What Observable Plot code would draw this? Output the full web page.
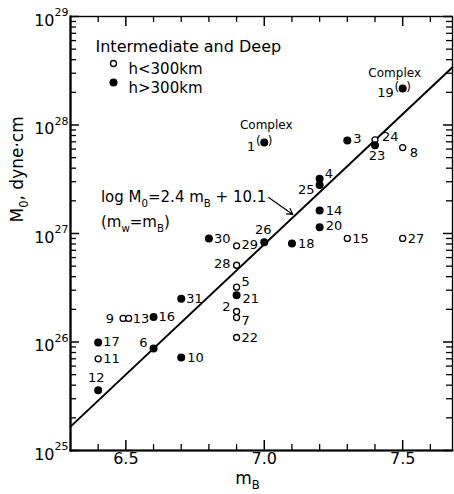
<!DOCTYPE html>
<html><head><meta charset="utf-8">
<script src="https://cdn.jsdelivr.net/npm/d3@7"></script>
<script src="https://cdn.jsdelivr.net/npm/@observablehq/plot@0.6"></script>
<style>body{margin:0;background:#fff} svg{display:block}</style>
</head><body><div id="chart"></div>
<script>
// ---- data ----
const eventIds = [1,2,3,4,5,6,7,8,9,10,11,12,13,14,15,16,17,18,19,20,21,22,23,24,25,26,27,28,29,30,31];
const mBvals   = [7.0,6.9,7.3,7.2,6.9,6.6,6.9,7.5,6.49,6.7,6.4,6.4,6.51,7.2,7.3,6.6,6.4,7.1,7.5,7.2,6.9,6.9,7.4,7.4,7.2,7.0,7.5,6.9,6.9,6.8,6.7];
const M0vals   = [6.9e27,1.91e26,7.2e27,3.2e27,3.2e26,8.7e25,1.68e26,6.2e27,1.65e26,7.2e25,7.0e25,3.6e25,1.65e26,1.63e27,9.0e26,1.7e26,9.9e25,8.1e26,2.17e28,1.14e27,2.7e26,1.1e26,6.5e27,7.3e27,2.8e27,8.3e26,9.0e26,5.1e26,7.7e26,9.0e26,2.5e26];
const deepVals = [1,0,1,1,0,1,0,0,0,1,0,1,0,1,0,1,1,1,1,1,1,0,1,0,1,1,0,0,0,1,1];
const complexIds = [1, 19];
const fitSlope = 2.4, fitIntercept = 10.1;
const fitRange = [6.3, 7.68];
const xMajorTicks = [6.5, 7.0, 7.5];
const xTickLabels = ["6.5", "7.0", "7.5"];
const xMinorTicks = [6.4, 6.6, 6.7, 6.8, 6.9, 7.1, 7.2, 7.3, 7.4, 7.6];
const yDecades = [25, 26, 27, 28, 29];
const legendTitle = "Intermediate and Deep";
const legendLabels = ["h<300km", "h>300km"];
const noteTexts = ["log M{_0}=2.4 m{_B} + 10.1", "(m{_w}=m{_B})"];
const noteX = [6.41, 6.41];
const noteY = [2.15e27, 1.26e27];
const arrowFrom = [7.016, 2.15e27];
const arrowTo = [7.103, 1.50e27];

const data = eventIds.map((id, i) => ({id, mB: mBvals[i], M0: M0vals[i], deep: !!deepVals[i]}));
const notes = noteTexts.map((t, i) => ({t, x: noteX[i], y: noteY[i]}));
const yMinor = yDecades.slice(0, -1).flatMap(d => [2,3,4,5,6,7,8,9].map(m => m * 10 ** d));
const yMajor = yDecades.map(d => 10 ** d);

// ---- layout (label offsets per event: dx, dy, anchor) ----
const labelAt = {
  1:[-9,4,"end"], 2:[-6,-5,"end"], 3:[6,-2,"start"], 4:[5,-5,"start"], 5:[5,-5,"start"],
  6:[-6,-6,"end"], 7:[5,3,"start"], 8:[7,5,"start"], 9:[-9,0,"end"], 10:[6,0,"start"],
  11:[5,0,"start"], 12:[-2,-12,"middle"], 13:[4,0,"start"], 14:[6,0,"start"], 15:[5,0,"start"],
  16:[5,0,"start"], 17:[5,-1,"start"], 18:[6,0,"start"], 19:[-9,4,"end"], 20:[6,-1,"start"],
  21:[6,4,"start"], 22:[5,0,"start"], 23:[2,11,"middle"], 24:[7,-3,"start"], 25:[-5,5,"end"],
  26:[-1,-12,"middle"], 27:[5,0,"start"], 28:[-6,-1,"end"], 29:[5,-1,"start"], 30:[5,0,"start"], 31:[5,0,"start"]
};
const complexAt = {1:[2,-17], 19:[-8,-15]};

const W = 454, H = 494, mL = 70, mR = 2, mT = 16, mBot = 44;
const FW = W - mL - mR, FH = H - mT - mBot;

const labelMarks = Object.entries(labelAt).map(([id, [dx, dy, a]]) =>
  Plot.text(data, {filter: d => d.id === +id, x: "mB", y: "M0", text: d => String(d.id), dx, dy, textAnchor: a, fontSize: 13}));
const complexMarks = complexIds.flatMap(id => {
  const [dx, dy] = complexAt[id];
  const f = d => d.id === id;
  return [
    Plot.text(data, {filter: f, x: "mB", y: "M0", text: () => "Complex", dx, dy, fontSize: 12}),
    Plot.text(data, {filter: f, x: "mB", y: "M0", text: () => "(", dx: -3.5, dy: -1, textAnchor: "end", fontSize: 12}),
    Plot.text(data, {filter: f, x: "mB", y: "M0", text: () => ")", dx: 3.5, dy: -1, textAnchor: "start", fontSize: 12})
  ];
});

const plot = Plot.plot({
  width: W, height: H, marginLeft: mL, marginRight: mR, marginTop: mT, marginBottom: mBot,
  x: {domain: [6.3, 7.68], axis: null},
  y: {type: "log", domain: [1e25, 1e29], axis: null},
  style: {fontFamily: "'DejaVu Sans', sans-serif", fontSize: "13px", color: "black", background: "white"},
  marks: [
    Plot.frame({strokeWidth: 1.4}),
    Plot.frame({anchor: "left", strokeWidth: 2.2}),
    Plot.frame({anchor: "bottom", strokeWidth: 1.8}),
    // ticks (inward)
    Plot.tickX(xMinorTicks, {x: d => d, insetTop: FH - 6, strokeWidth: 1.3}),
    Plot.tickX(xMajorTicks, {x: d => d, insetTop: FH - 10, strokeWidth: 1.5}),
    Plot.tickX(xMinorTicks, {x: d => d, insetBottom: FH - 6, strokeWidth: 1.3}),
    Plot.tickX(xMajorTicks, {x: d => d, insetBottom: FH - 10, strokeWidth: 1.5}),
    Plot.tickY(yMinor, {y: d => d, insetRight: FW - 6, strokeWidth: 1.3}),
    Plot.tickY(yMajor, {y: d => d, insetRight: FW - 9, strokeWidth: 1.5}),
    Plot.tickY(yMinor, {y: d => d, insetLeft: FW - 6, strokeWidth: 1.3}),
    Plot.tickY(yMajor, {y: d => d, insetLeft: FW - 9, strokeWidth: 1.5}),
    // tick labels
    Plot.text(xMajorTicks, {x: d => d, text: (d, i) => xTickLabels[i], frameAnchor: "bottom", dy: 13, fontSize: 16}),
    Plot.text(yDecades, {y: d => 10 ** d, text: () => "10", frameAnchor: "left", textAnchor: "end", dx: -16, dy: 4, fontSize: 16}),
    Plot.text(yDecades, {y: d => 10 ** d, text: d => String(d), frameAnchor: "left", textAnchor: "start", dx: -16, dy: -4, fontSize: 11}),
    // axis titles
    Plot.text(["M{_0}, dyne·cm"], {frameAnchor: "left", dx: -53, dy: -11, rotate: -90, fontSize: 17}),
    Plot.text(["m{_B}"], {frameAnchor: "bottom", dx: -14, dy: 33, fontSize: 17}),
    // fit line
    Plot.line(fitRange, {x: d => d, y: d => 10 ** (fitSlope * d + fitIntercept), strokeWidth: 2}),
    // points
    Plot.dot(data, {filter: d => !d.deep, x: "mB", y: "M0", r: 3, stroke: "black", fill: "white", strokeWidth: 1.3}),
    Plot.dot(data, {filter: d => d.deep, x: "mB", y: "M0", r: 4, fill: "black"}),
    ...labelMarks,
    ...complexMarks,
    // annotation
    Plot.text(notes, {x: "x", y: "y", text: "t", textAnchor: "start", fontSize: 15}),
    Plot.arrow([0], {x1: () => arrowFrom[0], y1: () => arrowFrom[1], x2: () => arrowTo[0], y2: () => arrowTo[1], headLength: 8, strokeWidth: 1.2}),
    // legend
    Plot.text([legendTitle], {frameAnchor: "top-left", dx: 25, dy: 24, textAnchor: "start", fontSize: 16, letterSpacing: "0.5px"}),
    Plot.dot([0], {frameAnchor: "top-left", dx: 43, dy: 47, r: 3, stroke: "black", fill: "white", strokeWidth: 1.3}),
    Plot.dot([0], {frameAnchor: "top-left", dx: 43, dy: 66, r: 4, fill: "black"}),
    Plot.text([legendLabels[0]], {frameAnchor: "top-left", dx: 58, dy: 47, textAnchor: "start", fontSize: 15, letterSpacing: "0.8px"}),
    Plot.text([legendLabels[1]], {frameAnchor: "top-left", dx: 58, dy: 66, textAnchor: "start", fontSize: 15, letterSpacing: "0.8px"})
  ]
});
document.getElementById("chart").appendChild(plot);

// convert {_x} / {^x} markup into real sub/superscript tspans
plot.querySelectorAll("text").forEach(el => {
  const s = el.textContent;
  if (!/\{[_^]/.test(s)) return;
  const fs = parseFloat(getComputedStyle(el).fontSize) || 13;
  el.textContent = "";
  let shift = 0;
  for (const part of s.split(/(\{[_^][^}]*\})/)) {
    if (!part) continue;
    const t = document.createElementNS("http://www.w3.org/2000/svg", "tspan");
    let target = 0;
    if (part.startsWith("{_")) { target = 0.3 * fs; t.textContent = part.slice(2, -1); t.setAttribute("font-size", 0.68 * fs); }
    else if (part.startsWith("{^")) { target = -0.4 * fs; t.textContent = part.slice(2, -1); t.setAttribute("font-size", 0.68 * fs); }
    else t.textContent = part;
    const d = target - shift;
    if (d) t.setAttribute("dy", d);
    shift = target;
    el.appendChild(t);
  }
});
</script>
</body></html>
